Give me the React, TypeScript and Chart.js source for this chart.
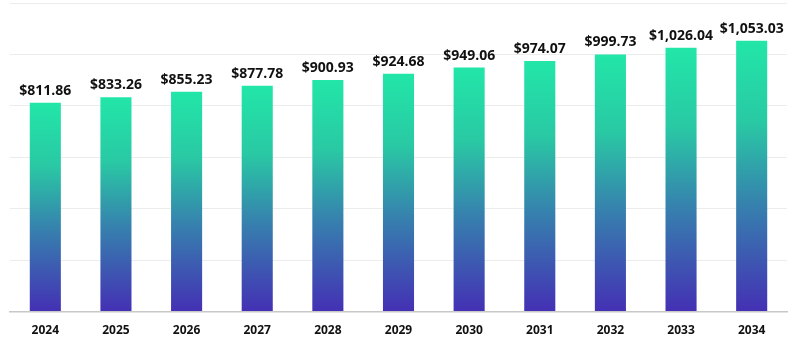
import React, { useEffect, useRef } from "react";
import { Chart, registerables } from "chart.js";

Chart.register(...registerables);

const categories = ["2024", "2025", "2026", "2027", "2028", "2029", "2030", "2031", "2032", "2033", "2034"];
const values = [811.86, 833.26, 855.23, 877.78, 900.93, 924.68, 949.06, 974.07, 999.73, 1026.04, 1053.03];
const yMin = 0;
const yMax = 1200;
const yStep = 200;

const fmt = (v: number) =>
  "$" + v.toLocaleString("en-US", { minimumFractionDigits: 2, maximumFractionDigits: 2 });

const labelPlugin = {
  id: "barLabels",
  afterDatasetsDraw(chart: any) {
    const ctx = chart.ctx;
    const meta = chart.getDatasetMeta(0);
    ctx.save();
    ctx.font = "bold 14px 'Open Sans'";
    ctx.fillStyle = "#111111";
    ctx.textAlign = "center";
    ctx.textBaseline = "bottom";
    meta.data.forEach((bar: any, i: number) => {
      ctx.fillText(fmt(values[i]), bar.x, bar.y - 5);
    });
    ctx.restore();
  },
};

export default function App() {
  const ref = useRef<HTMLCanvasElement | null>(null);
  useEffect(() => {
    if (!ref.current) return;
    const chart = new Chart(ref.current, {
      type: "bar",
      data: {
        labels: categories,
        datasets: [
          {
            data: values,
            barPercentage: 0.44,
            categoryPercentage: 1,
            backgroundColor: (c: any) => {
              const ch = c.chart;
              const ys = ch.scales && ch.scales.y;
              if (!ys || c.dataIndex === undefined) return "#2fb5a5";
              const top = ys.getPixelForValue(values[c.dataIndex]);
              const base = ys.getPixelForValue(0);
              if (!isFinite(top) || !isFinite(base) || top === base) return "#2fb5a5";
              const g = ch.ctx.createLinearGradient(0, top, 0, base);
              g.addColorStop(0, "#22E6A8");
              g.addColorStop(0.3, "#29C9A4");
              g.addColorStop(0.6, "#3682AE");
              g.addColorStop(1, "#4430B4");
              return g;
            },
          },
        ],
      },
      options: {
        animation: false,
        responsive: false,
        maintainAspectRatio: false,
        layout: { padding: { left: 10, right: 13, top: 3, bottom: 12 } },
        plugins: { legend: { display: false }, tooltip: { enabled: false } },
        scales: {
          x: {
            grid: { display: false },
            border: { color: "#c8c8c8", width: 1.5 },
            ticks: {
              color: "#111111",
              font: { family: "'Open Sans'", size: 12, weight: "bold" },
              padding: 4,
            },
          },
          y: {
            min: yMin,
            max: yMax,
            ticks: { display: false, stepSize: yStep },
            border: { display: false },
            grid: { color: "#ececec", drawTicks: false },
          },
        },
      },
      plugins: [labelPlugin],
    });
    return () => chart.destroy();
  }, []);
  return (
    <div style={{ position: "fixed", left: 0, top: 0, width: 800, height: 354, background: "#fff" }}>
      <canvas ref={ref} width={800} height={354} style={{ width: 800, height: 354 }} />
    </div>
  );
}
